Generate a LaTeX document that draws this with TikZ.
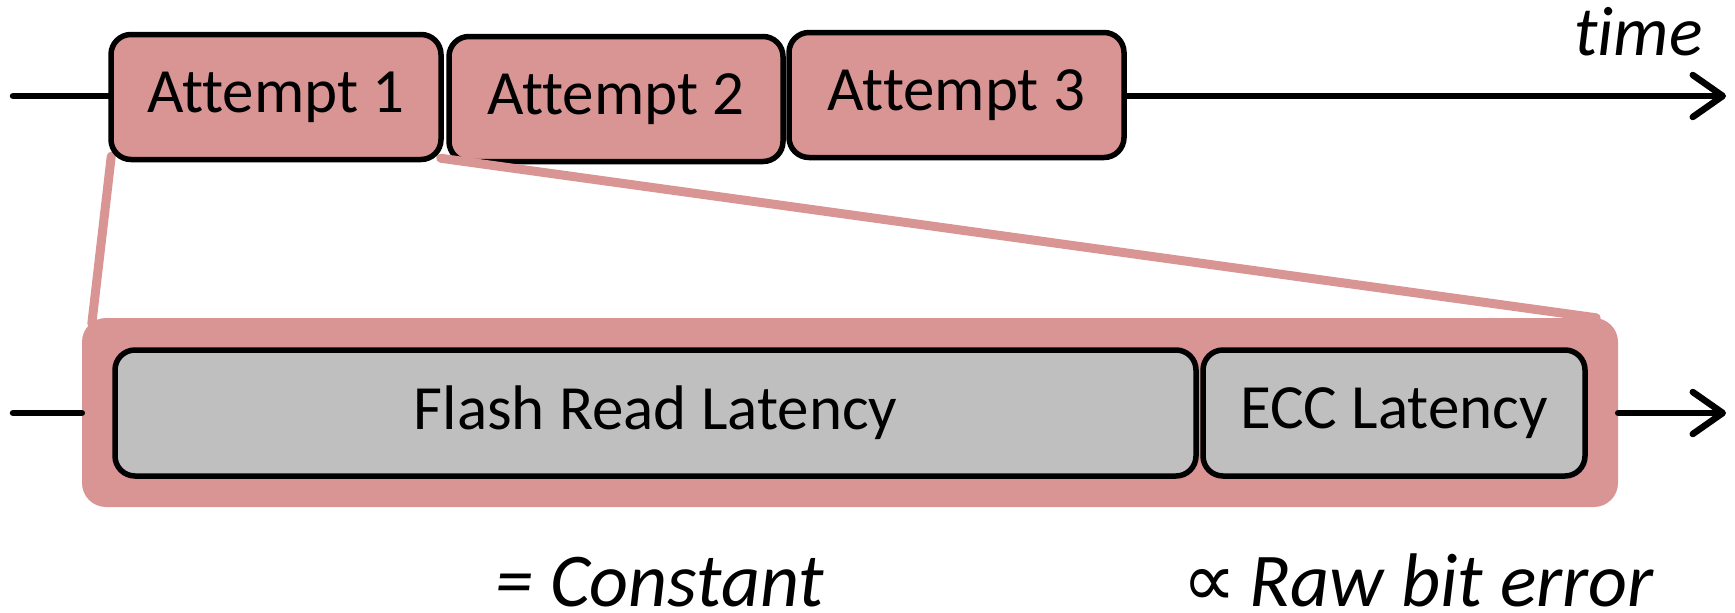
\documentclass[tikz,border=0pt]{standalone}
\usepackage{fontspec}
\setmainfont{Carlito}[Ligatures=NoCommon]
\newfontfamily\symfam{DejaVu Sans}
\usetikzlibrary{arrows.meta}
\pgfdeclarelayer{front}
\pgfsetlayers{main,front}
\definecolor{attemptpink}{HTML}{D99594}
\definecolor{stagegray}{HTML}{BFBFBF}
\begin{document}
\begin{tikzpicture}[x=1pt,y=-1pt,
  attemptbox/.style={draw=black, line width=5.5pt, fill=attemptpink, rounded corners=20pt,
    inner sep=0pt, minimum height=125pt, font=\fontsize{63}{70}\selectfont},
  stagebox/.style={draw=black, line width=5.5pt, fill=stagegray, rounded corners=20pt,
    inner sep=0pt, minimum height=126pt, font=\fontsize{63}{70}\selectfont},
  axis/.style={line width=6.5pt, line cap=round, line join=round},
  axisarrow/.style={axis, -{Straight Barb[length=30pt, width=42pt, round]}},
  zoomline/.style={draw=attemptpink, line width=9pt, line cap=round},
  notetext/.style={font=\fontsize{76}{80}\selectfont\itshape, inner sep=0pt}
]
\useasboundingbox (0,0) rectangle (1735,613);

% the three read attempts on the time line
\begin{pgfonlayer}{front}
  \node[attemptbox, minimum width=330pt] (a1) at (276,97) {Attempt 1};
\end{pgfonlayer}
\node[attemptbox, minimum width=334pt] (a2) at (616,99) {Attempt 2};
\node[attemptbox, minimum width=335pt] (a3) at (956.5,95) {Attempt 3};

% expanded view of one attempt
\node[fill=attemptpink, rounded corners=24pt, minimum width=1536pt, minimum height=189pt,
  inner sep=0pt] (read) at (850,412.5) {};
\node[stagebox, minimum width=1081pt] (flash) at (655.5,413) {Flash Read Latency};
\node[stagebox, minimum width=382pt] (ecc) at (1394,413) {ECC Latency};

% time axes
\coordinate (t0) at (13,96);
\coordinate (t1) at (1726,96);
\coordinate (b0) at (13,413);
\coordinate (b1) at (1726,413);
\draw[axis] (t0) -- (t0 -| a1.west);
\draw[axisarrow] (t1 -| a3.east) -- (t1);
\draw[axis] (b0) -- (b0 -| read.west);
\draw[axisarrow] (b1 -| read.east) -- (b1);

% zoom lines from the first attempt to its breakdown
\draw[zoomline] ([shift={(3,-6)}]a1.south west) -- ([shift={(10,6)}]read.north west);
\draw[zoomline] ([shift={(-3,-4)}]a1.south east) -- ([shift={(-22,0)}]read.north east);

% labels
\node[anchor=base east, font=\fontsize{70}{76}\selectfont\itshape, inner sep=0pt] (time) at (1703,55) {time};
\node[notetext, anchor=base west] (const) at (495,606) {= Constant};
\node[notetext, anchor=base west] (raw) at (1182,606) {{\symfam ∝}\,Raw bit error};
\end{tikzpicture}
\end{document}
